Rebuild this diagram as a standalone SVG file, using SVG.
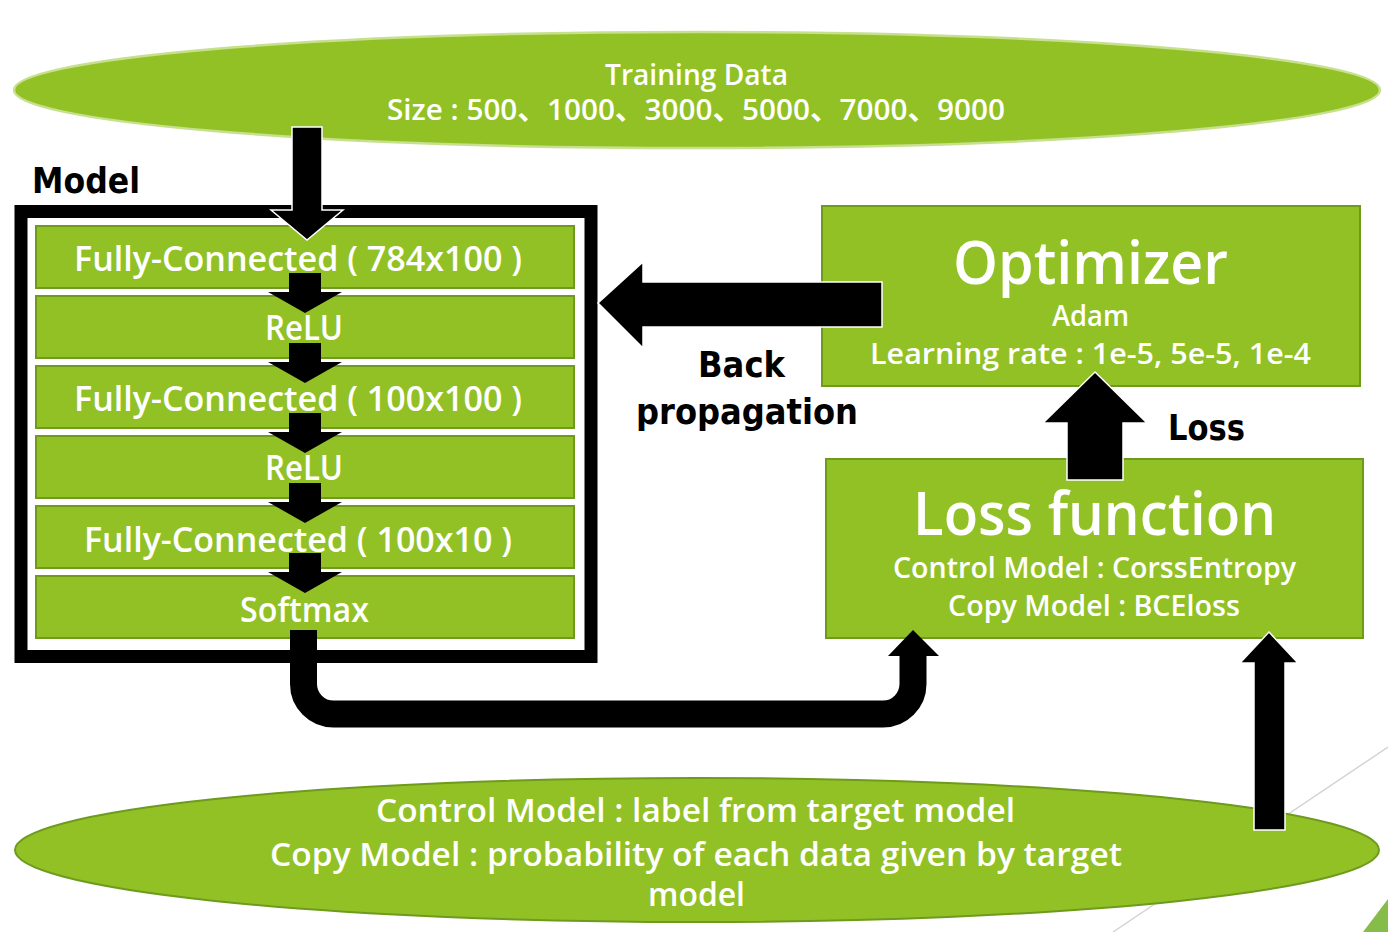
<svg xmlns="http://www.w3.org/2000/svg" width="1388" height="932" viewBox="0 0 1388 932">
<style>
.bg{fill:#ffffff}
.bar{fill:#92C126;stroke:#6E9A1E;stroke-width:2}
.wt{fill:#ffffff;font-family:"Open Sans","Noto Sans","Noto Sans CJK SC",sans-serif;font-weight:600}
.bk{fill:#000000;font-family:"DejaVu Sans","Noto Sans",sans-serif;font-weight:bold}
.arrow{fill:#000000;stroke:#ffffff;stroke-width:1.5;stroke-linejoin:miter}
.sarrow{fill:#000000}
</style>
<rect class="bg" x="0" y="0" width="1388" height="932"/>
<g id="decoration">
<line x1="1388" y1="747" x2="1113" y2="932" stroke="#D4D4D4" stroke-width="1.5"/>
<polygon points="1363,932 1388,899 1388,932" fill="#86BC4A"/>
</g>
<g id="training-data">
<ellipse cx="697" cy="90" rx="683" ry="58" fill="#92C126" stroke="#C6E08E" stroke-width="2.5"/>
<text class="wt" x="605" y="85" font-size="28" textLength="183" lengthAdjust="spacingAndGlyphs">Training Data</text>
<text class="wt" x="387" y="120" font-size="29" textLength="618" lengthAdjust="spacingAndGlyphs">Size : 500、1000、3000、5000、7000、9000</text>
</g>
<g id="model">
<text class="bk" x="32" y="193" font-size="36" textLength="108" lengthAdjust="spacingAndGlyphs">Model</text>
<rect x="21" y="211.5" width="570" height="445" fill="#ffffff" stroke="#000000" stroke-width="13"/>
</g>
<g id="layer-fc1">
<rect class="bar" x="36" y="226" width="538" height="62"/>
<text class="wt" x="74" y="271" font-size="35" textLength="448" lengthAdjust="spacingAndGlyphs">Fully-Connected ( 784x100 )</text>
</g>
<g id="layer-relu1">
<rect class="bar" x="36" y="296" width="538" height="62"/>
<text class="wt" x="265" y="340" font-size="35" textLength="78" lengthAdjust="spacingAndGlyphs">ReLU</text>
</g>
<g id="layer-fc2">
<rect class="bar" x="36" y="366" width="538" height="62"/>
<text class="wt" x="74" y="411" font-size="35" textLength="448" lengthAdjust="spacingAndGlyphs">Fully-Connected ( 100x100 )</text>
</g>
<g id="layer-relu2">
<rect class="bar" x="36" y="436" width="538" height="62"/>
<text class="wt" x="265" y="480" font-size="35" textLength="78" lengthAdjust="spacingAndGlyphs">ReLU</text>
</g>
<g id="layer-fc3">
<rect class="bar" x="36" y="506" width="538" height="62"/>
<text class="wt" x="84" y="552" font-size="35" textLength="428" lengthAdjust="spacingAndGlyphs">Fully-Connected ( 100x10 )</text>
</g>
<g id="layer-softmax">
<rect class="bar" x="36" y="576" width="538" height="62"/>
<text class="wt" x="240" y="622" font-size="35" textLength="129" lengthAdjust="spacingAndGlyphs">Softmax</text>
</g>
<g id="optimizer">
<rect class="bar" x="822" y="206" width="538" height="180"/>
<text class="wt" x="953" y="284" font-size="60" textLength="275" lengthAdjust="spacingAndGlyphs">Optimizer</text>
<text class="wt" x="1052" y="326" font-size="28" textLength="77" lengthAdjust="spacingAndGlyphs">Adam</text>
<text class="wt" x="870" y="364" font-size="28" textLength="441" lengthAdjust="spacingAndGlyphs">Learning rate : 1e-5, 5e-5, 1e-4</text>
</g>
<g id="loss-function">
<rect class="bar" x="826" y="459" width="537" height="179"/>
<text class="wt" x="913" y="535" font-size="60" textLength="363" lengthAdjust="spacingAndGlyphs">Loss function</text>
<text class="wt" x="893" y="578" font-size="29" textLength="403" lengthAdjust="spacingAndGlyphs">Control Model : CorssEntropy</text>
<text class="wt" x="948" y="616" font-size="29" textLength="292" lengthAdjust="spacingAndGlyphs">Copy Model : BCEloss</text>
</g>
<g id="target-data">
<ellipse cx="697" cy="850" rx="682" ry="72" fill="#92C126" stroke="#6E9A1E" stroke-width="2"/>
<text class="wt" x="376" y="822" font-size="33" textLength="639" lengthAdjust="spacingAndGlyphs">Control Model : label from target model</text>
<text class="wt" x="270" y="866" font-size="33" textLength="852" lengthAdjust="spacingAndGlyphs">Copy Model : probability of each data given by target</text>
<text class="wt" x="648" y="906" font-size="33" textLength="97" lengthAdjust="spacingAndGlyphs">model</text>
</g>
<g id="connectors">
<path class="arrow" d="M292,127 H322 V210 H343 L307,240 L271,210 H292 Z"/>
<path class="sarrow" d="M289,273 H321 V292 H342 L305,313 L268,292 H289 Z"/>
<path class="sarrow" d="M289,343 H321 V362 H342 L305,383 L268,362 H289 Z"/>
<path class="sarrow" d="M289,413 H321 V432 H342 L305,453 L268,432 H289 Z"/>
<path class="sarrow" d="M289,483 H321 V502 H342 L305,523 L268,502 H289 Z"/>
<path class="sarrow" d="M289,553 H321 V572 H342 L305,593 L268,572 H289 Z"/>
<path d="M303.5,630 V684 A30,30 0 0 0 333.5,714 H883 A30,30 0 0 0 913,684 V654" fill="none" stroke="#000000" stroke-width="27"/>
<polygon points="888,656 939,656 913,630" fill="#000000"/>
<path class="arrow" d="M882,282 V327 H643 V348 L598,303 L643,262 V282 Z"/>
<path class="arrow" d="M1067,480 V423 H1043 L1095,372 L1147,423 H1123 V480 Z"/>
<path class="arrow" d="M1254,830 V663 H1240 L1269,632 L1298,663 H1285 V830 Z"/>
<text class="bk" x="698" y="377" font-size="36" textLength="87" lengthAdjust="spacingAndGlyphs">Back</text>
<text class="bk" x="636" y="424" font-size="36" textLength="222" lengthAdjust="spacingAndGlyphs">propagation</text>
<text class="bk" x="1168" y="440" font-size="36" textLength="77" lengthAdjust="spacingAndGlyphs">Loss</text>
</g>
</svg>
